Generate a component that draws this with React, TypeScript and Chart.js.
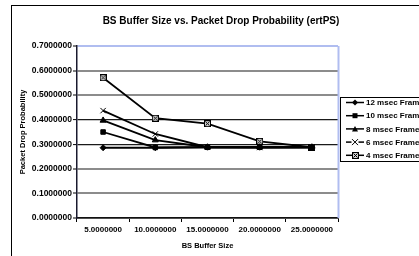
import React, { useEffect, useRef } from 'react';
import { Chart, registerables } from 'chart.js';
Chart.register(...registerables);

const categories = ['5.0000000', '10.0000000', '15.0000000', '20.0000000', '25.0000000'];
const seriesNames = ['12 msec Frame', '10 msec Frame', '8 msec Frame', '6 msec Frame', '4 msec Frame'];
const s12 = [0.286, 0.286, 0.288, 0.288, 0.288];
const s10 = [0.350, 0.287, 0.288, 0.288, 0.288];
const s8 = [0.397, 0.317, 0.288, 0.288, 0.288];
const s6 = [0.437, 0.342, 0.288, 0.287, 0.288];
const s4 = [0.571, 0.406, 0.384, 0.312, 0.288];
const darkGridValues = [0.3, 0.4];
const titleText = 'BS Buffer Size vs. Packet Drop Probability (ertPS)';
const xTitle = 'BS Buffer Size';
const yTitle = 'Packet Drop Probability';

const FONT = '"Liberation Sans", Arial, sans-serif';
const BLUE = '#b0bdf0';

function makeBoxX(): HTMLCanvasElement {
  const c = document.createElement('canvas');
  c.width = 7; c.height = 7;
  const g = c.getContext('2d')!;
  g.fillStyle = '#d0d0d0';
  g.fillRect(0.5, 0.5, 6, 6);
  g.strokeStyle = '#000';
  g.lineWidth = 1;
  g.strokeRect(0.5, 0.5, 6, 6);
  g.beginPath();
  g.moveTo(1.5, 1.5); g.lineTo(5.5, 5.5);
  g.moveTo(5.5, 1.5); g.lineTo(1.5, 5.5);
  g.stroke();
  return c;
}

function drawMarker(ctx: CanvasRenderingContext2D, kind: number, x: number, y: number, boxX: HTMLCanvasElement) {
  ctx.save();
  ctx.fillStyle = '#000';
  ctx.strokeStyle = '#000';
  ctx.lineWidth = 1;
  ctx.beginPath();
  if (kind === 0) {
    ctx.moveTo(x, y - 3); ctx.lineTo(x + 3, y); ctx.lineTo(x, y + 3); ctx.lineTo(x - 3, y); ctx.closePath(); ctx.fill();
  } else if (kind === 1) {
    ctx.rect(x - 2.5, y - 2.5, 5, 5); ctx.fill();
  } else if (kind === 2) {
    ctx.moveTo(x, y - 3); ctx.lineTo(x + 3, y + 2.5); ctx.lineTo(x - 3, y + 2.5); ctx.closePath(); ctx.fill();
  } else if (kind === 3) {
    ctx.fillStyle = '#fff';
    ctx.fillRect(x - 3.5, y - 3.5, 7, 7);
    ctx.moveTo(x - 3, y - 3); ctx.lineTo(x + 3, y + 3); ctx.moveTo(x + 3, y - 3); ctx.lineTo(x - 3, y + 3); ctx.stroke();
  } else {
    ctx.drawImage(boxX, Math.round(x - 3.5), Math.round(y - 3.5));
  }
  ctx.restore();
}

export default function App() {
  const ref = useRef<HTMLCanvasElement>(null);
  useEffect(() => {
    const boxX = makeBoxX();
    const decor = {
      id: 'decor',
      beforeDraw(chart: any) {
        const { ctx } = chart;
        ctx.save();
        ctx.fillStyle = '#fff';
        ctx.fillRect(0, 0, chart.width, chart.height);
        ctx.strokeStyle = '#000';
        ctx.lineWidth = 1;
        ctx.strokeRect(11.5, 5.5, 600, 400);
        ctx.restore();
      },
      afterDraw(chart: any) {
        const { ctx, chartArea } = chart;
        ctx.save();
        // plot area right border
        ctx.strokeStyle = BLUE;
        ctx.lineWidth = 2;
        ctx.beginPath();
        ctx.moveTo(chartArea.right + 0.5, chartArea.top);
        ctx.lineTo(chartArea.right + 0.5, chartArea.bottom);
        ctx.stroke();
        // title
        ctx.fillStyle = '#000';
        ctx.font = `bold 10px ${FONT}`;
        ctx.textAlign = 'center';
        ctx.textBaseline = 'middle';
        ctx.fillText(titleText, 221, 21);
        // legend
        ctx.strokeStyle = '#000';
        ctx.lineWidth = 1;
        ctx.strokeRect(340.5, 97.5, 200, 64);
        ctx.font = `bold 8px ${FONT}`;
        ctx.textAlign = 'left';
        seriesNames.forEach((name, i) => {
          const y = 102.5 + i * 13.2;
          ctx.strokeStyle = '#000';
          ctx.lineWidth = 1.5;
          ctx.beginPath();
          ctx.moveTo(346, y);
          ctx.lineTo(364, y);
          ctx.stroke();
          drawMarker(ctx, i, 355, y, boxX);
          ctx.fillStyle = '#000';
          ctx.fillText(name, 366, y + 0.5);
        });
        ctx.restore();
      },
    };
    const mk = (label: string, data: number[], style: any, radius: number) => ({
      label,
      data,
      borderColor: '#000',
      backgroundColor: '#000',
      borderWidth: 1.8,
      pointStyle: style,
      pointRadius: radius,
      pointBorderWidth: 1,
      pointBorderColor: '#000',
      pointBackgroundColor: style === 'crossRot' ? '#fff' : '#000',
      tension: 0,
    });
    const isDark = (v: number) => darkGridValues.some((d) => Math.abs(d - v) < 1e-6);
    const chart = new Chart(ref.current!, {
      type: 'line',
      data: {
        labels: categories,
        datasets: [
          mk(seriesNames[0], s12, 'rectRot', 3),
          mk(seriesNames[1], s10, 'rect', 3.2),
          mk(seriesNames[2], s8, 'triangle', 3.5),
          mk(seriesNames[3], s6, 'crossRot', 3.8),
          mk(seriesNames[4], s4, boxX, 3.5),
        ],
      },
      options: {
        animation: false,
        responsive: false,
        devicePixelRatio: 1,
        layout: { padding: { top: 46, left: 0, right: 81, bottom: 0 } },
        plugins: { legend: { display: false }, title: { display: false }, tooltip: { enabled: false } },
        scales: {
          x: {
            type: 'category',
            offset: true,
            afterFit: (s: any) => { s.height = 38; },
            grid: { display: true, drawOnChartArea: false, drawTicks: true, tickLength: 4, tickColor: '#000', tickWidth: 1, offset: true },
            border: { display: true, color: '#111', width: 1.5 },
            ticks: { color: '#000', font: { family: FONT, size: 8, weight: 'bold' }, padding: 3, maxRotation: 0, autoSkip: false },
            title: { display: true, text: xTitle, color: '#000', font: { family: FONT, size: 7.5, weight: 'bold' }, padding: { top: 0, bottom: 6 } },
          },
          y: {
            min: 0,
            max: 0.7,
            afterFit: (s: any) => { s.width = 77; },
            grid: {
              color: (c: any) => {
                const v = c.tick ? c.tick.value : 0;
                if (Math.abs(v - 0.7) < 1e-6) return BLUE;
                return isDark(v) ? '#1a1a1a' : '#8c8c8c';
              },
              lineWidth: (c: any) => {
                const v = c.tick ? c.tick.value : 0;
                return isDark(v) ? 1.2 : 2;
              },
              drawTicks: true,
              tickLength: 4,
              tickColor: '#000',
              tickWidth: 1,
            },
            border: { display: true, color: '#1a1a2e', width: 1.5 },
            ticks: {
              stepSize: 0.1,
              color: '#000',
              font: { family: FONT, size: 8.5, weight: 'bold' },
              padding: 1,
              callback: (v: any) => Number(v).toFixed(7),
            },
            title: { display: true, text: yTitle, color: '#000', font: { family: FONT, size: 7.5, weight: 'bold' }, padding: { top: 18, bottom: 0 } },
          },
        },
      },
      plugins: [decor],
    } as any);
    return () => chart.destroy();
  }, []);
  return (
    <div style={{ position: 'absolute', left: 0, top: 0, width: 419, height: 256, overflow: 'hidden' }}>
      <canvas ref={ref} width={419} height={256} style={{ display: 'block' }} />
    </div>
  );
}
